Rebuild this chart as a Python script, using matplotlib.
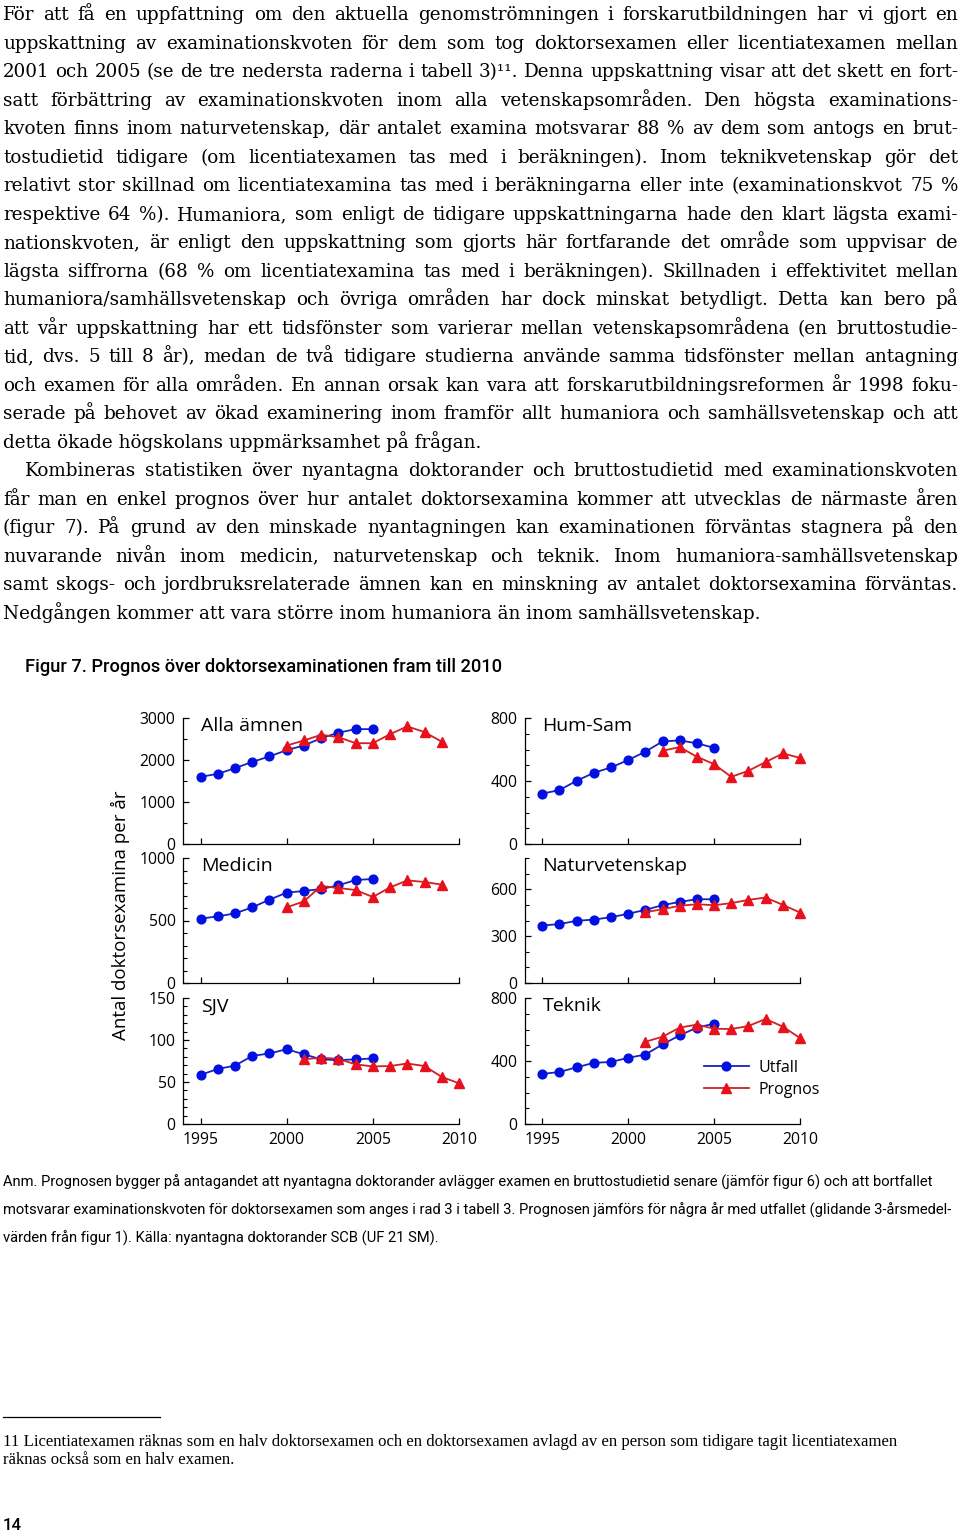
import matplotlib
matplotlib.use("Agg")
import matplotlib.pyplot as plt
from matplotlib.lines import Line2D
from matplotlib.ticker import MultipleLocator

W, H = 960, 1533

# värden avlästa ur figur 7
years_utfall = list(range(1995, 2006))

alla_utfall = [1600, 1670, 1805, 1955, 2085, 2235, 2345, 2520, 2650, 2735, 2735]
alla_prognos_start = 2000
alla_prognos = [2345, 2465, 2600, 2545, 2400, 2400, 2615, 2800, 2665, 2435]

humsam_utfall = [320, 342, 401, 452, 486, 533, 586, 651, 658, 639, 611]
humsam_prognos_start = 2002
humsam_prognos = [592, 615, 554, 507, 426, 465, 520, 575, 547]

medicin_utfall = [515, 533, 557, 605, 667, 723, 736, 752, 781, 824, 832]
medicin_prognos_start = 2000
medicin_prognos = [605, 653, 776, 760, 744, 688, 765, 821, 808, 787]

natur_utfall = [368, 377, 398, 406, 421, 443, 468, 498, 519, 536, 536]
natur_prognos_start = 2001
natur_prognos = [453, 472, 494, 504, 498, 511, 532, 547, 500, 451]

sjv_utfall = [58.5, 65.5, 69.5, 81, 84, 89, 83, 77, 76, 77, 78]
sjv_prognos_start = 2001
sjv_prognos = [77, 79, 77.5, 71, 68.5, 69, 72, 69, 56, 48.5]

teknik_utfall = [318, 330, 360, 388, 394, 420, 441, 505, 563, 612, 637]
teknik_prognos_start = 2001
teknik_prognos = [522, 554, 612, 631, 605, 603, 622, 667, 618, 546]

x_ticks = [1995, 2000, 2005, 2010]

body_lines = [
    "För att få en uppfattning om den aktuella genomströmningen i forskarutbildningen har vi gjort en",
    "uppskattning av examinationskvoten för dem som tog doktorsexamen eller licentiatexamen mellan",
    "2001 och 2005 (se de tre nedersta raderna i tabell 3)¹¹. Denna uppskattning visar att det skett en fort-",
    "satt förbättring av examinationskvoten inom alla vetenskapsområden. Den högsta examinations-",
    "kvoten finns inom naturvetenskap, där antalet examina motsvarar 88 % av dem som antogs en brut-",
    "tostudietid tidigare (om licentiatexamen tas med i beräkningen). Inom teknikvetenskap gör det",
    "relativt stor skillnad om licentiatexamina tas med i beräkningarna eller inte (examinationskvot 75 %",
    "respektive 64 %). Humaniora, som enligt de tidigare uppskattningarna hade den klart lägsta exami-",
    "nationskvoten, är enligt den uppskattning som gjorts här fortfarande det område som uppvisar de",
    "lägsta siffrorna (68 % om licentiatexamina tas med i beräkningen). Skillnaden i effektivitet mellan",
    "humaniora/samhällsvetenskap och övriga områden har dock minskat betydligt. Detta kan bero på",
    "att vår uppskattning har ett tidsfönster som varierar mellan vetenskapsområdena (en bruttostudie-",
    "tid, dvs. 5 till 8 år), medan de två tidigare studierna använde samma tidsfönster mellan antagning",
    "och examen för alla områden. En annan orsak kan vara att forskarutbildningsreformen år 1998 foku-",
    "serade på behovet av ökad examinering inom framför allt humaniora och samhällsvetenskap och att",
    "detta ökade högskolans uppmärksamhet på frågan.",
    "Kombineras statistiken över nyantagna doktorander och bruttostudietid med examinationskvoten",
    "får man en enkel prognos över hur antalet doktorsexamina kommer att utvecklas de närmaste åren",
    "(figur 7). På grund av den minskade nyantagningen kan examinationen förväntas stagnera på den",
    "nuvarande nivån inom medicin, naturvetenskap och teknik. Inom humaniora-samhällsvetenskap",
    "samt skogs- och jordbruksrelaterade ämnen kan en minskning av antalet doktorsexamina förväntas.",
    "Nedgången kommer att vara större inom humaniora än inom samhällsvetenskap.",
]
last_lines = [15, 21]
indent_lines = [16]

caption = "Figur 7. Prognos över doktorsexaminationen fram till 2010"
anm_lines = [
    "Anm. Prognosen bygger på antagandet att nyantagna doktorander avlägger examen en bruttostudietid senare (jämför figur 6) och att bortfallet",
    "motsvarar examinationskvoten för doktorsexamen som anges i rad 3 i tabell 3. Prognosen jämförs för några år med utfallet (glidande 3-årsmedel-",
    "värden från figur 1). Källa: nyantagna doktorander SCB (UF 21 SM).",
]
footnote_lines = [
    "11 Licentiatexamen räknas som en halv doktorsexamen och en doktorsexamen avlagd av en person som tidigare tagit licentiatexamen",
    "räknas också som en halv examen.",
]

plt.rcParams['font.family'] = ['Open Sans', 'DejaVu Sans']
serif = ['DejaVu Serif']
note_serif = ['Liberation Serif', 'DejaVu Serif']
narrow = ['Roboto', 'DejaVu Sans']

blue, blue_line = '#0010e0', '#1a22b8'
red, red_line = '#e8101c', '#d02020'

fig = plt.figure(figsize=(W / 100, H / 100), dpi=100)
renderer = fig.canvas.get_renderer()


def fx(x):
    return x / W


def fy(y):
    return 1 - y / H


def width_of(s, size, family, **kw):
    t = fig.text(0, 0, s, fontsize=size, family=family, **kw)
    w = t.get_window_extent(renderer).width
    t.remove()
    return w


def fit_size(s, family, target, **kw):
    return 12 * target / width_of(s, 12, family, **kw)


# brödtext, marginaljusterad rad för rad
justified = [i for i in range(len(body_lines)) if i not in last_lines]
body_size = min(fit_size(body_lines[i], serif, 952 - (22 if i in indent_lines else 0))
                for i in justified)
for i, line in enumerate(body_lines):
    base = 20.5 + 28.48 * i
    x0 = 25 if i in indent_lines else 3
    if i in last_lines:
        fig.text(fx(x0), fy(base), line, fontsize=body_size, family=serif, va='baseline')
        continue
    words = line.split(' ')
    widths = [width_of(w, body_size, serif) for w in words]
    gap = (958 - x0 - sum(widths)) / (len(words) - 1)
    x = x0
    for w, wd in zip(words, widths):
        fig.text(fx(x), fy(base), w, fontsize=body_size, family=serif, va='baseline')
        x += wd + gap

# figurrubrik
cap_size = fit_size(caption, narrow, 475, fontweight='medium')
fig.text(fx(25), fy(672), caption, fontsize=cap_size, family=narrow, fontweight='medium', va='baseline')


def draw_panel(left, top, right, bottom, title, utfall, p_start, prognos, ymax, major, minor, show_x):
    ax = fig.add_axes([fx(left), fy(bottom), (right - left) / W, (bottom - top) / H])
    ax.patch.set_alpha(0)
    p_years = list(range(p_start, p_start + len(prognos)))
    ax.plot(years_utfall, utfall, color=blue_line, lw=1.3, marker='o', ms=6.3,
            mfc=blue, mec=blue, label='Utfall', clip_on=False)
    ax.plot(p_years, prognos, color=red_line, lw=1.3, marker='^', ms=7,
            mfc=red, mec=red, label='Prognos', clip_on=False)
    ax.set_xlim(1994, 2010)
    ax.set_ylim(0, ymax)
    ax.set_xticks(x_ticks)
    ax.yaxis.set_major_locator(MultipleLocator(major))
    ax.yaxis.set_minor_locator(MultipleLocator(minor))
    ax.spines['top'].set_visible(False)
    ax.spines['right'].set_visible(False)
    ax.spines['left'].set_linewidth(0.9)
    ax.spines['bottom'].set_linewidth(0.9)
    ax.tick_params(which='major', direction='in', length=4.5, width=0.9, labelsize=11.3, pad=5.5)
    ax.tick_params(which='minor', direction='in', length=2.8, width=0.8)
    ax.tick_params(axis='x', pad=6)
    if not show_x:
        ax.tick_params(axis='x', labelbottom=False)
    fig.text(fx(left + 17.5), fy(top + 13.3), title, fontsize=14, va='baseline')
    return ax


rows = [(718, 844), (858, 983), (998, 1124)]
lc, rc = (183.3, 459), (525, 800)

draw_panel(lc[0], rows[0][0], lc[1], rows[0][1], 'Alla ämnen', alla_utfall,
           alla_prognos_start, alla_prognos, 3000, 1000, 500, False)
draw_panel(lc[0], rows[1][0], lc[1], rows[1][1], 'Medicin', medicin_utfall,
           medicin_prognos_start, medicin_prognos, 1000, 500, 100, False)
draw_panel(lc[0], rows[2][0], lc[1], rows[2][1], 'SJV', sjv_utfall,
           sjv_prognos_start, sjv_prognos, 150, 50, 10, True)
draw_panel(rc[0], rows[0][0], rc[1], rows[0][1], 'Hum-Sam', humsam_utfall,
           humsam_prognos_start, humsam_prognos, 800, 400, 100, False)
draw_panel(rc[0], rows[1][0], rc[1], rows[1][1], 'Naturvetenskap', natur_utfall,
           natur_prognos_start, natur_prognos, 800, 300, 100, False)
ax_t = draw_panel(rc[0], rows[2][0], rc[1], rows[2][1], 'Teknik', teknik_utfall,
                  teknik_prognos_start, teknik_prognos, 800, 400, 100, True)

ax_t.legend(loc='upper left', bbox_to_anchor=(fx(704), fy(1060)), bbox_transform=fig.transFigure,
            frameon=False, fontsize=11.5, handlelength=2.8, handletextpad=0.6,
            labelspacing=0.38, borderpad=0, borderaxespad=0, numpoints=1)

fig.text(fx(120.5), fy(915), 'Antal doktorsexamina per år', rotation=90,
         ha='center', va='center', fontsize=13.5)

# anmärkning
anm_size = fit_size(anm_lines[1], narrow, 947)
for i, line in enumerate(anm_lines):
    fig.text(fx(3), fy(1187 + 28 * i), line, fontsize=anm_size, family=narrow, va='baseline')

# fotnot
fig.add_artist(Line2D([fx(3), fx(160)], [fy(1417), fy(1417)], color='black', lw=0.9))
fn_size = fit_size(footnote_lines[0], note_serif, 897)
for i, line in enumerate(footnote_lines):
    fig.text(fx(3), fy(1446 + 18 * i), line, fontsize=fn_size, family=note_serif, va='baseline')

# sidnummer
pg_size = fit_size('14', narrow, 19, fontweight='medium')
fig.text(fx(3), fy(1530), '14', fontsize=pg_size, family=narrow, fontweight='medium', va='baseline')

fig.savefig('out.png', dpi=100)
